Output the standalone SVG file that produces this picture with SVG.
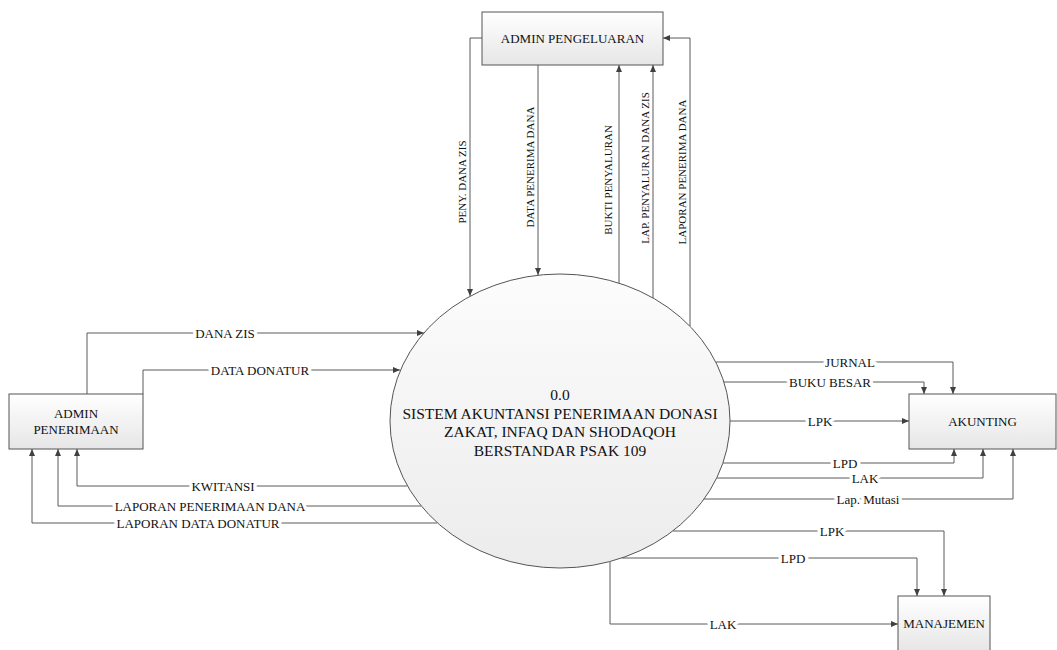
<svg xmlns="http://www.w3.org/2000/svg" width="1057" height="650" viewBox="0 0 1057 650">
<defs>
<linearGradient id="gb" x1="0" y1="0" x2="0" y2="1"><stop offset="0" stop-color="#ffffff"/><stop offset="1" stop-color="#e6e6e6"/></linearGradient>
<linearGradient id="ge" x1="0" y1="0" x2="0" y2="1"><stop offset="0" stop-color="#fcfcfc"/><stop offset="1" stop-color="#ececec"/></linearGradient>
<marker id="ar" markerWidth="7" markerHeight="6" refX="7" refY="3" orient="auto" markerUnits="userSpaceOnUse"><path d="M0,0 L7,3 L0,6 z" fill="#404040"/></marker>
<style>
.box{fill:url(#gb);stroke:#555;stroke-width:1}
.ell{fill:url(#ge);stroke:#555;stroke-width:1}
text{font-family:'Liberation Serif','Times New Roman',serif;fill:#111;text-anchor:middle}
.nt{font-size:13px}
.et{font-size:15.5px}
.c path{fill:none;stroke:#5a5a5a;stroke-width:1;marker-end:url(#ar)}
.lb{font-size:13px;stroke:#fff;stroke-width:7;stroke-linejoin:round;paint-order:stroke}
.vl{font-size:11px}
</style>
</defs>
<rect width="1057" height="650" fill="#fff"/>
<g id="connectors" class="c">
<path d="M482,38 H470 V296"/>
<path d="M538,65 V275"/>
<path d="M619,283 V65"/>
<path d="M653,298 V65"/>
<path d="M690,326 V38 H663"/>
<path d="M87,394 V333 H424"/>
<path d="M143,394 V370 H400"/>
<path d="M407,486 H77 V449"/>
<path d="M421,506 H58 V449"/>
<path d="M437,523 H32 V449"/>
<path d="M716,362 H953 V394"/>
<path d="M724,382 H924 V394"/>
<path d="M730,421 H909"/>
<path d="M723,463 H954 V449"/>
<path d="M717,478 H983 V449"/>
<path d="M704,499 H1013 V449"/>
<path d="M673,531 H944 V596"/>
<path d="M622,558 H917 V596"/>
<path d="M610,562 V624 H898"/>
</g>
<g id="labels">
<text class="vl" transform="translate(466,182) rotate(-90)">PENY. DANA ZIS</text>
<text class="vl" transform="translate(534,167) rotate(-90)">DATA PENERIMA DANA</text>
<text class="vl" transform="translate(612,180) rotate(-90)">BUKTI PENYALURAN</text>
<text class="vl" transform="translate(649,168) rotate(-90)">LAP. PENYALURAN DANA ZIS</text>
<text class="vl" transform="translate(686,172) rotate(-90)">LAPORAN PENERIMA DANA</text>
<text class="lb" x="225" y="337.5">DANA ZIS</text>
<text class="lb" x="260" y="374.5">DATA DONATUR</text>
<text class="lb" x="223" y="490.5">KWITANSI</text>
<text class="lb" x="210" y="510.5">LAPORAN PENERIMAAN DANA</text>
<text class="lb" x="198" y="527.5">LAPORAN DATA DONATUR</text>
<text class="lb" x="850" y="366.5">JURNAL</text>
<text class="lb" x="830" y="386.5">BUKU BESAR</text>
<text class="lb" x="820" y="425.5">LPK</text>
<text class="lb" x="845" y="467.5">LPD</text>
<text class="lb" x="865" y="482.5">LAK</text>
<text class="lb" x="868" y="503.5">Lap. Mutasi</text>
<text class="lb" x="832" y="535.5">LPK</text>
<text class="lb" x="793" y="562.5">LPD</text>
<text class="lb" x="723" y="628.5">LAK</text>
</g>
<g id="process">
<ellipse class="ell" cx="560" cy="421" rx="170" ry="147"/>
<text class="et" x="560" y="400">0.0</text>
<text class="et" x="560" y="418.7">SISTEM AKUNTANSI PENERIMAAN DONASI</text>
<text class="et" x="560" y="437.4">ZAKAT, INFAQ DAN SHODAQOH</text>
<text class="et" x="560" y="456">BERSTANDAR PSAK 109</text>
</g>
<g id="admin-pengeluaran">
<rect class="box" x="482" y="12" width="181" height="53"/>
<text class="nt" x="572.5" y="43">ADMIN PENGELUARAN</text>
</g>
<g id="admin-penerimaan">
<rect class="box" x="9" y="394" width="134" height="55"/>
<text class="nt" x="76" y="418">ADMIN</text>
<text class="nt" x="76" y="434">PENERIMAAN</text>
</g>
<g id="akunting">
<rect class="box" x="909" y="394" width="147" height="55"/>
<text class="nt" x="982.5" y="426">AKUNTING</text>
</g>
<g id="manajemen">
<rect class="box" x="898" y="596" width="92" height="56"/>
<text class="nt" x="944" y="628">MANAJEMEN</text>
</g>
</svg>
